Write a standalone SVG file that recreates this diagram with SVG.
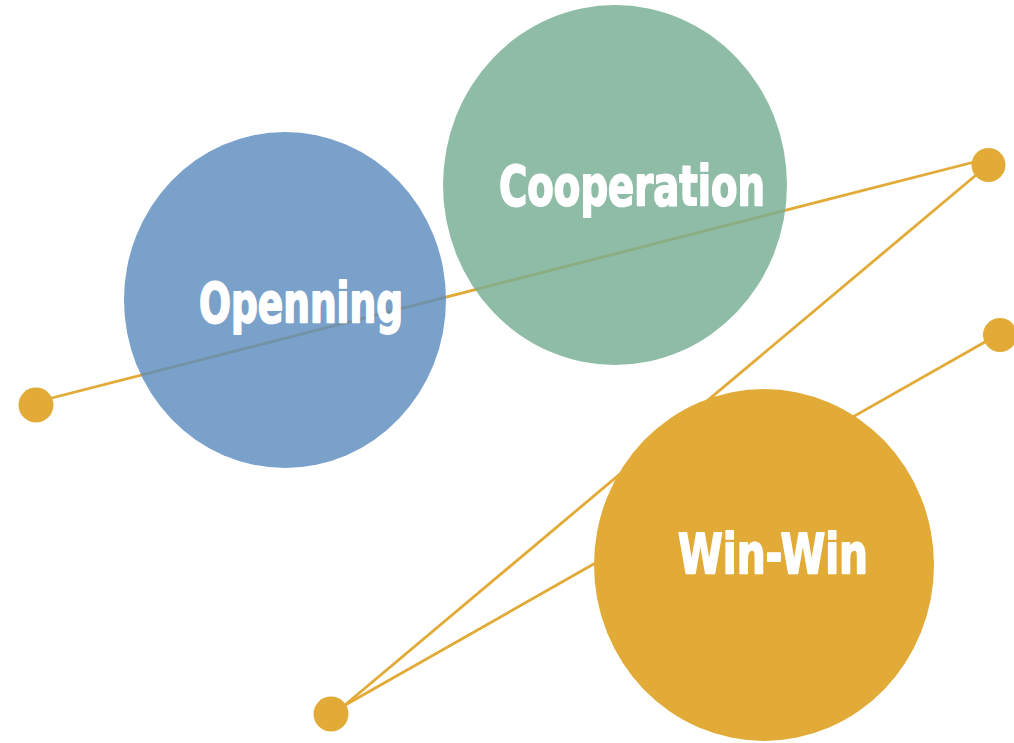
<svg xmlns="http://www.w3.org/2000/svg" width="1014" height="743" viewBox="0 0 1014 743">
<style>
.link{stroke:#E2AA36;stroke-width:2.8;fill:none;stroke-linecap:round}
.dot{fill:#E2AA36}
.lbl{font-family:"Liberation Sans Narrow","DejaVu Sans Condensed","Liberation Sans",sans-serif;font-weight:bold;font-size:55px;fill:#FFFFFF;stroke:#FFFFFF;stroke-width:1.8;stroke-linejoin:round}
</style>
<rect width="1014" height="743" fill="#FFFFFF"/>
<g id="connectors">
<line class="link" x1="36" y1="402" x2="988" y2="158.5"/>
<line class="link" x1="988" y1="165" x2="333" y2="715"/>
<line class="link" x1="999" y1="334" x2="333" y2="712"/>
</g>
<g id="dots">
<circle class="dot" cx="36" cy="405" r="17.5"/>
<circle class="dot" cx="988.5" cy="165" r="17"/>
<circle class="dot" cx="1000" cy="335" r="17"/>
<circle class="dot" cx="331" cy="714" r="17.5"/>
</g>
<g id="openning">
<ellipse cx="285" cy="300" rx="161" ry="168" fill="#5C8CBE" opacity="0.82"/>
<text class="lbl" x="199" y="322" textLength="204" lengthAdjust="spacingAndGlyphs">Openning</text>
</g>
<g id="cooperation">
<ellipse cx="615" cy="185" rx="172" ry="180" fill="#76AD94" opacity="0.82"/>
<text class="lbl" x="499" y="205" textLength="266" lengthAdjust="spacingAndGlyphs">Cooperation</text>
</g>
<g id="winwin">
<ellipse cx="764" cy="565" rx="170" ry="176" fill="#E2AA36"/>
<text class="lbl" x="678" y="573" textLength="190" lengthAdjust="spacingAndGlyphs">Win-Win</text>
</g>
</svg>
